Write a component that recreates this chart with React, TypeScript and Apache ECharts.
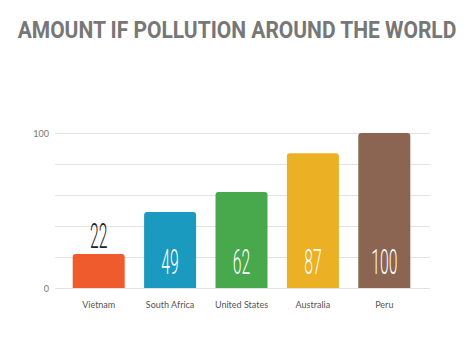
import React, { useEffect, useRef } from "react";
import * as echarts from "echarts";

const title = "AMOUNT IF POLLUTION AROUND THE WORLD";
const categories = ["Vietnam", "South Africa", "United States", "Australia", "Peru"];
const values = [22, 49, 62, 87, 100];
const colors = ["#EF5B2D", "#1B9AC0", "#47A94B", "#EBB024", "#8B6551"];
const yTicks = [0, 100];

export default function App() {
  const ref = useRef<HTMLDivElement>(null);
  useEffect(() => {
    document.body.style.margin = "0";
    const chart = echarts.init(ref.current!, null, { renderer: "svg" });
    chart.setOption({
      animation: false,
      backgroundColor: "#ffffff",
      graphic: [
        {
          type: "text",
          x: 237,
          y: 30,
          scaleX: 0.875,
          style: {
            x: 0,
            y: 0,
            text: title,
            fill: "#777777",
            font: "bold 24px Roboto",
            align: "center",
            verticalAlign: "middle",
          },
        },
      ],
      grid: [
        { left: 55, right: 44, top: 133, height: 155 },
        { left: 63, right: 54, top: 133, height: 155 },
      ],
      xAxis: [
        { type: "value", gridIndex: 0, show: false, min: 0, max: 1 },
        {
          type: "category",
          gridIndex: 1,
          data: categories,
          axisLine: { show: false },
          axisTick: { show: false },
          axisLabel: { color: "#555555", fontFamily: "Lato", fontSize: 9, margin: 12 },
        },
      ],
      yAxis: [
        {
          type: "value",
          gridIndex: 0,
          min: 0,
          max: 100,
          interval: 20,
          axisLine: { show: false },
          axisTick: { show: false },
          splitLine: { lineStyle: { color: "#e2e2e2", width: 1 } },
          axisLabel: {
            color: "#777777",
            fontFamily: "Lato",
            fontSize: 9,
            margin: 6,
            formatter: (v: number) => (yTicks.includes(v) ? String(v) : ""),
          },
        },
        { type: "value", gridIndex: 1, min: 0, max: 100, show: false },
      ],
      series: [
        {
          type: "bar",
          xAxisIndex: 1,
          yAxisIndex: 1,
          barWidth: 52,
          data: values.map((v, i) => ({
            value: v,
            itemStyle: { color: colors[i], borderRadius: [3, 3, 0, 0] },
          })),
        },
        {
          type: "custom",
          xAxisIndex: 1,
          yAxisIndex: 1,
          data: values.map((v, i) => [i, v]),
          z: 10,
          renderItem: (params: any, api: any) => {
            const idx = api.value(0);
            const val = api.value(1);
            const top = api.coord([idx, val]);
            const base = api.coord([idx, 0]);
            const inside = base[1] - top[1] > 60;
            const y = inside ? base[1] - 26 : top[1] - 18;
            return {
              type: "text",
              x: top[0],
              y: y,
              scaleX: 0.45,
              style: {
                x: 0,
                y: 0,
                text: String(val),
                fill: inside ? "#ffffff" : "#222222",
                font: "300 35px Roboto",
                align: "center",
                verticalAlign: "middle",
              },
            };
          },
        },
      ],
    });
    return () => chart.dispose();
  }, []);
  return (
    <div
      ref={ref}
      style={{ position: "absolute", left: 0, top: 0, width: 474, height: 355 }}
    />
  );
}
